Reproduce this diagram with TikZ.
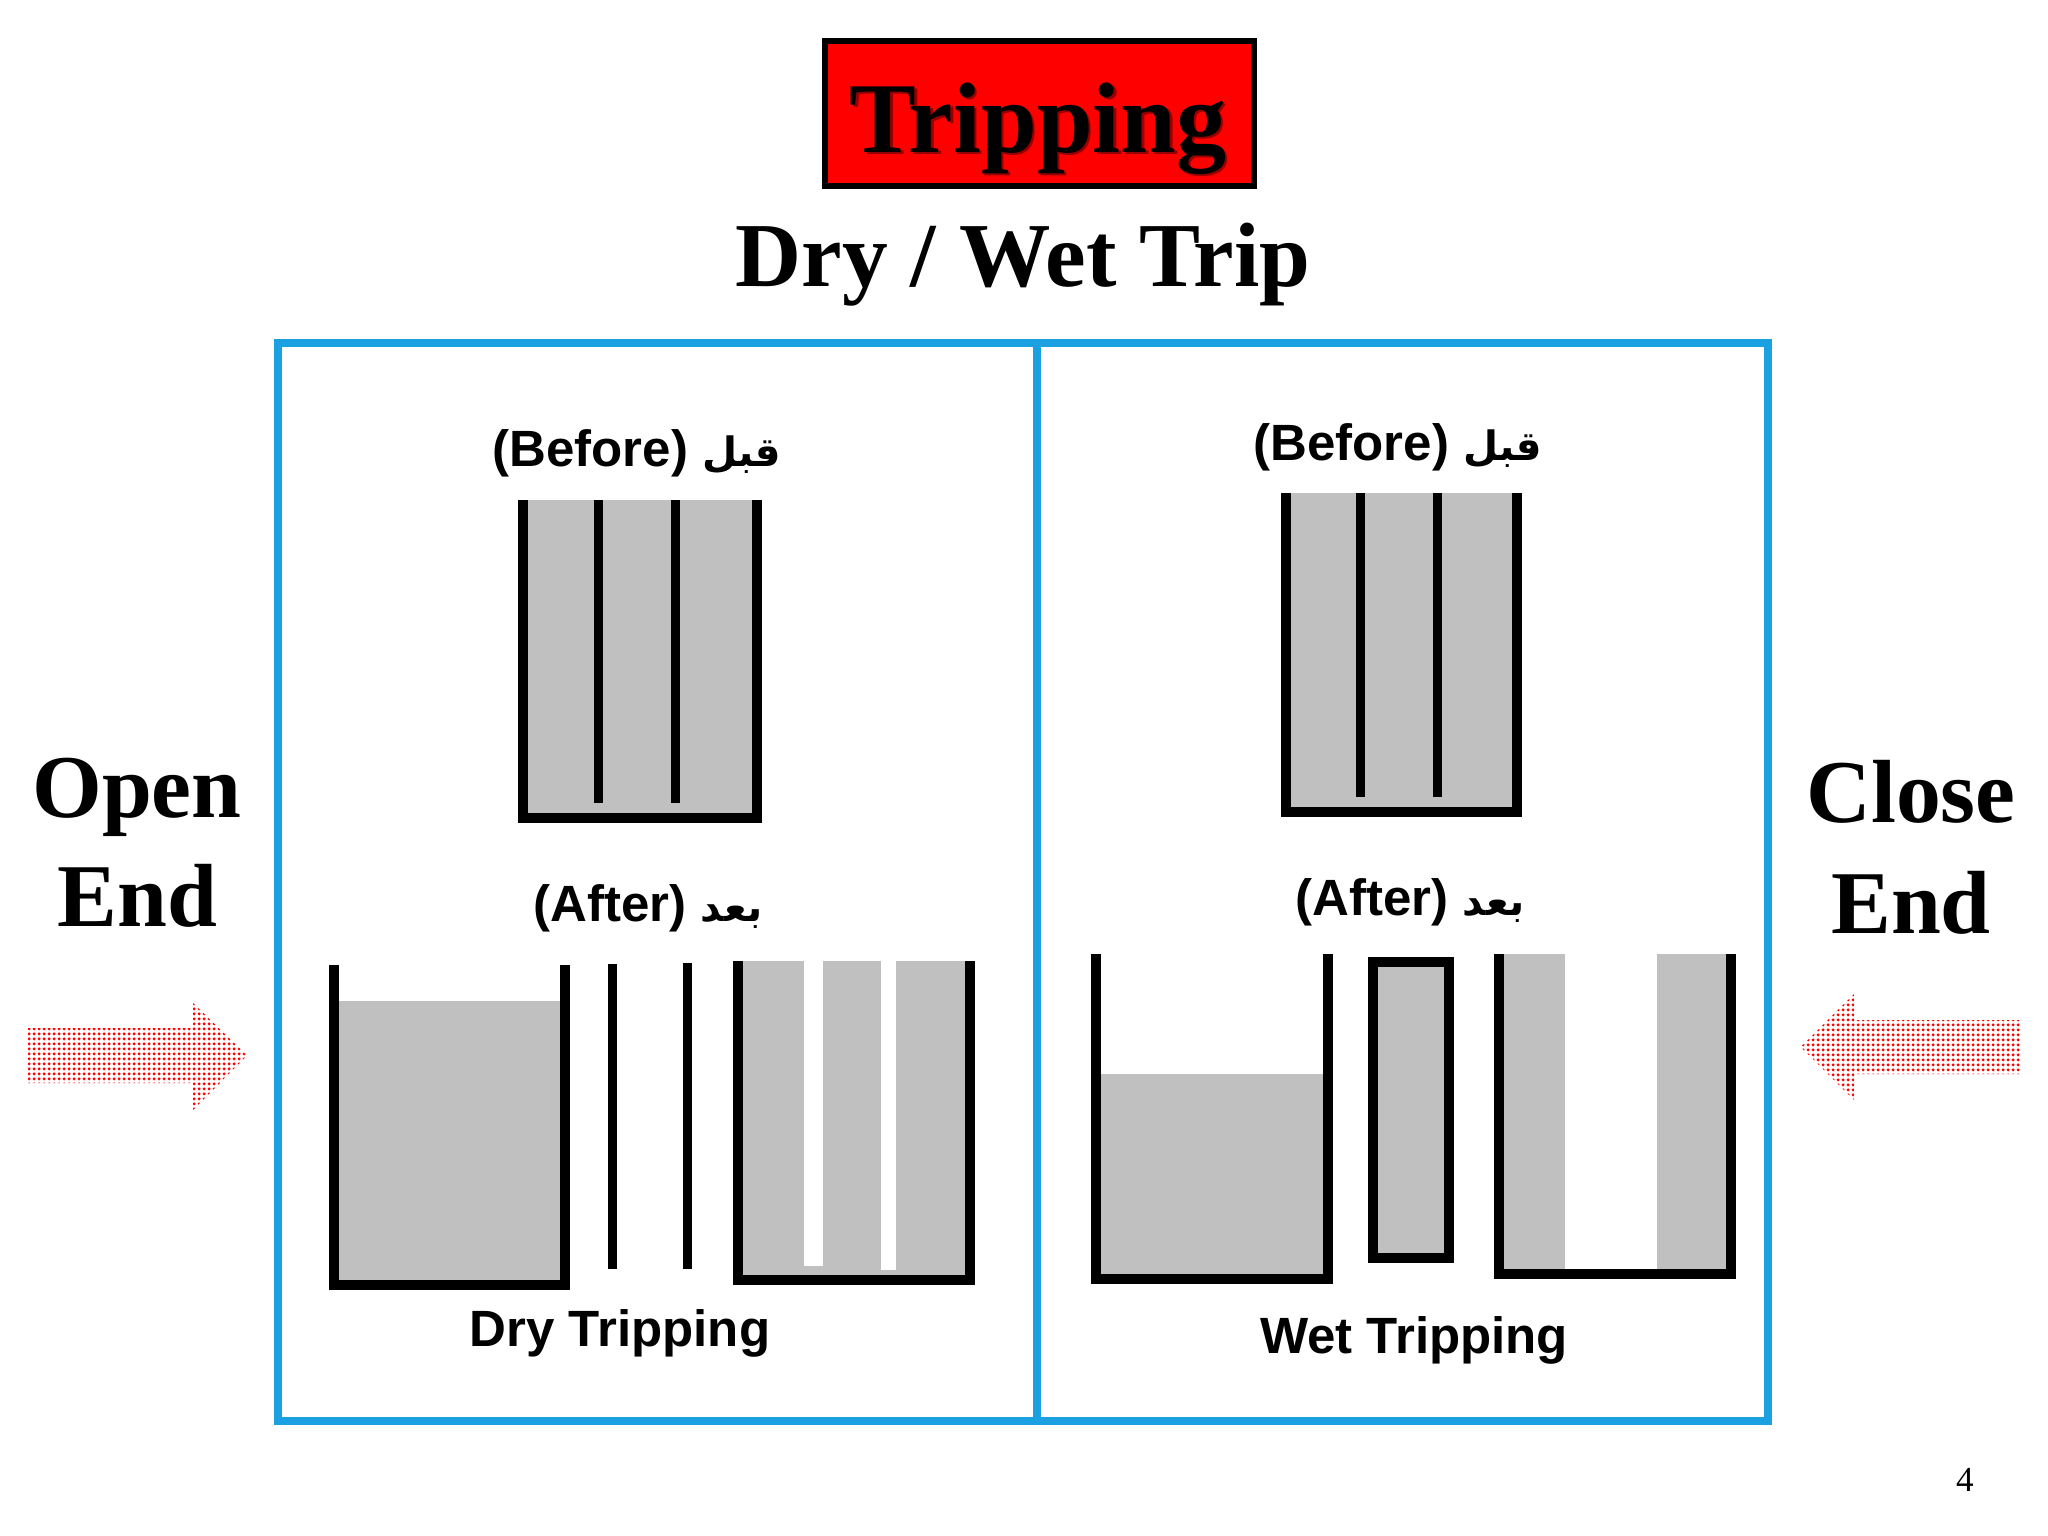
\documentclass[tikz,border=0pt]{standalone}
\usepackage{fontspec}
\setmainfont{Liberation Serif}
\newfontfamily\labfont{Liberation Sans}
\newfontfamily\arabfont[Script=Arabic]{DejaVu Sans}
\TeXXeTstate=1
\usetikzlibrary{patterns.meta}
\definecolor{frameblue}{RGB}{27,161,226}
\definecolor{mudgray}{RGB}{192,192,192}
\definecolor{titlered}{RGB}{255,0,0}
\definecolor{shadowred}{RGB}{150,0,0}
\tikzdeclarepattern{
  name=reddots,
  type=uncolored,
  bounding box={(0pt,0pt) and (1.3pt,1.3pt)},
  tile size={(1.3pt,1.3pt)},
  code={\pgfpathcircle{\pgfqpoint{0.65pt}{0.65pt}}{0.5pt}\pgfusepath{fill}}
}
\newcommand{\arw}[1]{{\arabfont\fontsize{11.5}{14}\selectfont\beginR #1\endR}}
\begin{document}
\begin{tikzpicture}[x=0.01cm,y=-0.01cm,
  wall/.style={draw=black, line width=0.1cm, line cap=butt, line join=miter},
  pipe/.style={draw=black, line width=0.09cm, line cap=butt},
  mud/.style={fill=mudgray},
  frame/.style={draw=frameblue, line width=0.08cm},
  bigserif/.style={font=\bfseries\fontsize{25.5}{30}\selectfont, inner sep=0, anchor=base},
  lab/.style={font=\labfont\bfseries\fontsize{14.5}{17}\selectfont, inner sep=0, anchor=base},
  redarrow/.style={pattern={reddots}, pattern color=red}
]
\useasboundingbox (0,0) rectangle (2048,1536);
\fill[white] (0,0) rectangle (2048,1536);

% title
\draw[line width=0.06cm, fill=titlered] (824.7,41.3) rectangle (1254,186);
\node[font=\bfseries\fontsize{28.5}{34}\selectfont, inner sep=0, anchor=base, text=shadowred] (titleshadow) at (1040.5,154.5) {Tripping};
\node[font=\bfseries\fontsize{28.5}{34}\selectfont, inner sep=0, anchor=base] (title) at (1038,152) {Tripping};
\node[font=\bfseries\fontsize{26}{31}\selectfont, inner sep=0, anchor=base] (subtitle) at (1023,286) {Dry / Wet Trip};

% frame
\draw[frame] (278,343) rectangle (1768,1421);
\draw[frame] (1037,343) -- (1037,1421);

% before, left panel
\fill[mud] (523,500) rectangle (757,818);
\draw[wall] (523,500) -- (523,818) -- (757,818) -- (757,500);
\draw[pipe] (598.5,500) -- (598.5,803);
\draw[pipe] (675,500) -- (675,803);
\node[lab] (beforeL) at (637,466) {(Before) \arw{قبل}};

% before, right panel
\fill[mud] (1285.5,493) rectangle (1517,812);
\draw[wall] (1285.5,493) -- (1285.5,812) -- (1517,812) -- (1517,493);
\draw[pipe] (1360,493) -- (1360,797);
\draw[pipe] (1437,493) -- (1437,797);
\node[lab] (beforeR) at (1398,460) {(Before) \arw{قبل}};

% after, left panel (dry)
\node[lab] (afterL) at (648,921) {(After) \arw{بعد}};
\fill[mud] (334,1001) rectangle (564.5,1285);
\draw[wall] (334,965) -- (334,1285) -- (564.5,1285) -- (564.5,965);
\draw[pipe] (612.6,964) -- (612.6,1269);
\draw[pipe] (687.5,963) -- (687.5,1269);
\fill[mud] (738,961) rectangle (970,1280);
\fill[white] (803.7,961) rectangle (823.4,1266);
\fill[white] (880.8,961) rectangle (895.5,1270);
\draw[wall] (738,961) -- (738,1280) -- (970,1280) -- (970,961);
\node[lab] (dry) at (620,1346) {Dry Tripping};

% after, right panel (wet)
\node[lab] (afterR) at (1410,915) {(After) \arw{بعد}};
\fill[mud] (1096,1074) rectangle (1328,1279);
\draw[wall] (1096,954) -- (1096,1279) -- (1328,1279) -- (1328,954);
\draw[wall, fill=mudgray] (1372.6,962) rectangle (1449,1258);
\fill[mud] (1499,954) rectangle (1565,1274);
\fill[mud] (1657,954) rectangle (1731,1274);
\draw[wall] (1499,954) -- (1499,1274) -- (1731,1274) -- (1731,954);
\node[lab] (wet) at (1414,1353) {Wet Tripping};

% open end
\node[bigserif] (open) at (137,817) {Open};
\node[bigserif] (openend) at (137.5,926) {End};
\path[redarrow] (28,1028) -- (193,1028) -- (193,1003) -- (247,1055.5) -- (193,1110) -- (193,1083) -- (28,1083) -- cycle;

% close end
\node[bigserif] (close) at (1911,822) {Close};
\node[bigserif] (closeend) at (1911,933) {End};
\path[redarrow] (2020,1020) -- (1854,1020) -- (1854,994) -- (1800.7,1047) -- (1854,1100) -- (1854,1074) -- (2020,1074) -- cycle;

% page number
\node[font=\fontsize{10}{12}\selectfont, inner sep=0, anchor=base] (page) at (1965,1491) {4};
\end{tikzpicture}
\end{document}
